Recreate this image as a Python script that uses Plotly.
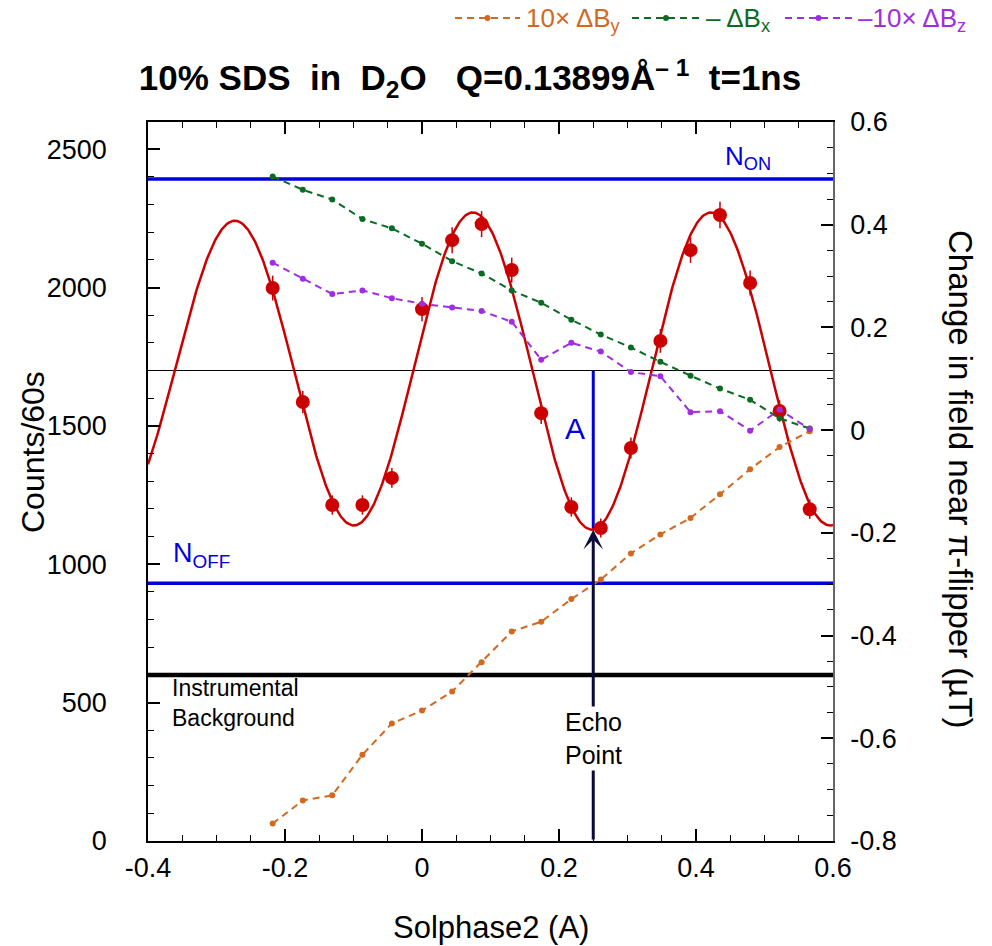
import numpy as np
import plotly.graph_objects as go

# ---------------- data ----------------
solphase = [-0.218, -0.174, -0.131, -0.087, -0.044, 0.0, 0.044, 0.087, 0.131, 0.174,
            0.218, 0.261, 0.305, 0.348, 0.392, 0.435, 0.479, 0.522, 0.566]
counts = [1998, 1586, 1214, 1214, 1312, 1922, 2171, 2229, 2063, 1546,
          1207, 1131, 1420, 1807, 2135, 2262, 2016, 1554, 1199]
count_err = [45, 40, 35, 35, 36, 44, 47, 47, 45, 39, 35, 34, 38, 43, 46, 48, 45, 39, 35]

dBy_x10 = [-0.766, -0.721, -0.711, -0.632, -0.571, -0.546, -0.509, -0.452, -0.392, -0.373,
           -0.329, -0.291, -0.240, -0.203, -0.171, -0.125, -0.076, -0.033, -0.002]
neg_dBx = [0.494, 0.468, 0.449, 0.411, 0.393, 0.363, 0.329, 0.305, 0.272, 0.248,
           0.215, 0.186, 0.161, 0.133, 0.106, 0.081, 0.059, 0.023, 0.003]
neg_dBz_x10 = [0.326, 0.295, 0.265, 0.272, 0.257, 0.246, 0.239, 0.232, 0.211, 0.137,
               0.170, 0.153, 0.113, 0.105, 0.035, 0.037, -0.001, 0.040, 0.002]

# fit parameters of the echo curve
fit_mean = 1700
fit_amp = 575
fit_center = 0.248
fit_period = 0.348
fit_env_sigma = 1.5

N_on = 2392
N_off = 931
instr_bg = 600
echo_point = 0.250
echo_min = 1125

x_tickvals = [-0.4, -0.2, 0.0, 0.2, 0.4, 0.6]
x_ticktext = ["-0.4", "-0.2", "0", "0.2", "0.4", "0.6"]
y2_tickvals = [-0.8, -0.6, -0.4, -0.2, 0.0, 0.2, 0.4, 0.6]
y2_ticktext = ["-0.8", "-0.6", "-0.4", "-0.2", "0", "0.2", "0.4", "0.6"]

legend_names = ["10× ΔB<sub>y</sub>", "– ΔB<sub>x</sub>", "–10× ΔB<sub>z</sub>"]

x_range = [-0.4, 0.6]
y_range = [0, 2598]
y2_range = [-0.8, 0.6]

# ---------------- figure ----------------
W, H = 992, 946
PL, PR, PT, PB = 148, 833, 122, 841   # plot area in pixels


def px(xp):
    return (xp - PL) / (PR - PL)


def py(yp):
    return (PB - yp) / (PB - PT)


RED = "#cc0000"
BLUE = "#0000dd"
ORANGE = "#d2691e"
GREEN = "#0b6b23"
PURPLE = "#a02ee0"
FONT = "Liberation Sans, Arial, sans-serif"

fig = go.Figure()

xf = np.linspace(x_range[0], x_range[1], 600)
env = np.exp(-((xf - fit_center) ** 2) / (2 * fit_env_sigma ** 2))
yf = fit_mean - fit_amp * env * np.cos(2 * np.pi * (xf - fit_center) / fit_period)

# horizontal reference lines
for val, col, w in [(N_on, BLUE, 3.5), (N_off, BLUE, 3.5), (instr_bg, "black", 4.5), (fit_mean, "black", 1.2)]:
    fig.add_trace(go.Scatter(x=x_range, y=[val, val], mode="lines",
                             line=dict(color=col, width=w), showlegend=False, hoverinfo="skip"))

# amplitude line A
fig.add_trace(go.Scatter(x=[echo_point, echo_point], y=[fit_mean, echo_min], mode="lines",
                         line=dict(color=BLUE, width=3), showlegend=False, hoverinfo="skip"))

# fit curve
fig.add_trace(go.Scatter(x=xf, y=yf, mode="lines", line=dict(color=RED, width=2.5),
                         showlegend=False, hoverinfo="skip"))
# data points
fig.add_trace(go.Scatter(x=solphase, y=counts, mode="markers",
                         marker=dict(color=RED, size=14),
                         error_y=dict(type="data", array=count_err, color=RED, thickness=1.5, width=0),
                         showlegend=False))

field_series = [(dBy_x10, ORANGE), (neg_dBx, GREEN), (neg_dBz_x10, PURPLE)]
for (vals, col), name in zip(field_series, legend_names):
    fig.add_trace(go.Scatter(x=solphase, y=vals, yaxis="y2", mode="lines+markers",
                             line=dict(color=col, width=2, dash="7px,5px"),
                             marker=dict(color=col, size=6), name=name, showlegend=False))

annotations = [
    # echo arrow
    dict(x=echo_point, y=echo_min, ax=echo_point, ay=0, xref="x", yref="y", axref="x", ayref="y",
         text="", showarrow=True, arrowhead=3, arrowsize=1.1, arrowwidth=3, arrowcolor="#0b0b3b"),
    dict(x=echo_point, y=372, xref="x", yref="y", text="Echo<br>Point", showarrow=False,
         font=dict(family=FONT, size=25, color="black"), bgcolor="white", align="center"),
    dict(x=0.223, y=1492, xref="x", yref="y", text="A", showarrow=False,
         font=dict(family=FONT, size=30, color=BLUE)),
    dict(x=0.476, y=2470, xref="x", yref="y", text="N<sub>ON</sub>", showarrow=False,
         font=dict(family=FONT, size=26, color=BLUE)),
    dict(x=-0.366, y=1035, xref="x", yref="y", text="N<sub>OFF</sub>", showarrow=False,
         xanchor="left", font=dict(family=FONT, size=27, color=BLUE)),
    dict(x=-0.368, y=500, xref="x", yref="y", text="Instrumental<br>Background", showarrow=False,
         xanchor="left", align="left", font=dict(family=FONT, size=23, color="black")),
    # axis titles
    dict(x=px(33), y=py(452), xref="paper", yref="paper", text="Counts/60s", showarrow=False,
         xanchor="center", yanchor="middle", textangle=-90,
         font=dict(family=FONT, size=32, color="black")),
    dict(x=px(961), y=py(480), xref="paper", yref="paper", text="Change in field near π-flipper (µT)",
         showarrow=False, xanchor="center", yanchor="middle", textangle=90,
         font=dict(family=FONT, size=33, color="black")),
    dict(x=px(491), y=py(928), xref="paper", yref="paper", text="Solphase2 (A)", showarrow=False,
         xanchor="center", yanchor="middle", font=dict(family=FONT, size=31, color="black")),
]

# manual legend (top, partly cut at the right page edge)
shapes = []
leg_line_x = [(455, 520), (632, 700), (785, 852)]
leg_y = 18
for (x0, x1), (vals, col), name in zip(leg_line_x, field_series, legend_names):
    shapes.append(dict(type="line", xref="paper", yref="paper", x0=px(x0), x1=px(x1),
                       y0=py(leg_y), y1=py(leg_y), line=dict(color=col, width=2, dash="7px,5px")))
    shapes.append(dict(type="circle", xref="paper", yref="paper", xsizemode="pixel", ysizemode="pixel",
                       xanchor=px((x0 + x1) / 2), yanchor=py(leg_y), x0=-3, x1=3, y0=-3, y1=3,
                       fillcolor=col, line=dict(color=col, width=0)))
    annotations.append(dict(x=px(x1 + 4), y=py(leg_y + 1), xref="paper", yref="paper", text=name,
                            showarrow=False, xanchor="left", yanchor="middle",
                            font=dict(family=FONT, size=26, color=col)))

fig.update_layout(
    width=W, height=H,
    margin=dict(l=PL, r=W - PR, t=PT, b=H - PB, autoexpand=False),
    paper_bgcolor="white", plot_bgcolor="white",
    font=dict(family=FONT, size=27, color="black"),
    title=dict(text="<b>10% SDS  in  D<sub>2</sub>O   Q=0.13899Å<sup>– 1</sup>  t=1ns</b>",
               x=470 / W, xanchor="center", y=1 - 78 / H, yanchor="middle", yref="container",
               font=dict(family=FONT, size=35, color="black")),
    xaxis=dict(range=x_range, tickvals=x_tickvals, ticktext=x_ticktext, ticks="inside", ticklen=12,
               tickwidth=1.5, tickcolor="black", showline=True, linecolor="black", linewidth=1.5,
               mirror="ticks", showgrid=False, zeroline=False, ticklabelstandoff=2,
               minor=dict(dtick=0.05, ticks="inside", ticklen=6, tickcolor="black", tickwidth=1)),
    yaxis=dict(range=y_range, dtick=500, tick0=0, ticks="inside", ticklen=12, tickwidth=1.5,
               tickcolor="black", showline=True, linecolor="black", linewidth=1.5, showgrid=False,
               zeroline=False, ticklabelstandoff=34,
               minor=dict(dtick=100, ticks="inside", ticklen=6, tickcolor="black", tickwidth=1)),
    yaxis2=dict(range=y2_range, overlaying="y", side="right", tickvals=y2_tickvals, ticktext=y2_ticktext,
                ticks="inside", ticklen=12, tickwidth=1.5, tickcolor="black", showline=True,
                linecolor="#666666", linewidth=1.5, showgrid=False, zeroline=False, ticklabelstandoff=10,
                minor=dict(dtick=0.05, ticks="inside", ticklen=6, tickcolor="black", tickwidth=1)),
    annotations=annotations,
    shapes=shapes,
    showlegend=False,
)

fig.write_html("out.html")
